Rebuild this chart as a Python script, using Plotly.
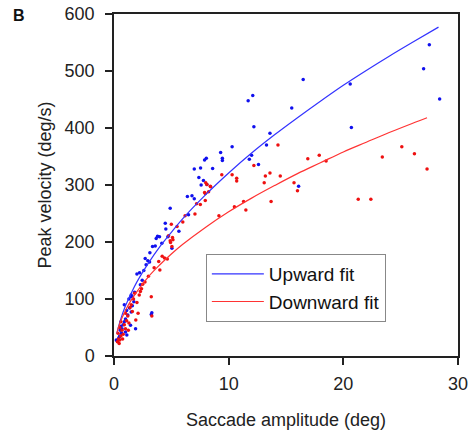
import plotly.graph_objects as go

# Scatter data
up_x = [27.5, 27.0, 28.4, 16.5, 20.6, 20.7, 12.1, 11.7, 15.5, 12.2, 13.6, 13.3, 10.3, 9.3, 12.0, 11.8,
        8.05, 7.9, 9.45, 9.45, 12.6, 7.0, 7.55, 8.6, 7.4, 7.8, 7.6, 8.1, 16.1, 6.4, 6.8, 7.0,
        4.9, 6.5, 5.66, 4.47, 4.52, 3.8, 4.17, 5.05, 3.36, 3.6, 3.13, 2.95, 2.72, 3.1, 2.23, 2.0,
        2.46, 1.5, 1.45, 1.6, 1.73, 1.35, 1.5, 1.2, 1.44, 1.88, 1.12, 0.66, 3.25, 3.3, 0.9, 0.8,
        0.55, 0.2, 3.97, 3.68, 4.7, 0.4, 0.5, 0.7, 0.6, 1.0, 1.1, 0.9, 1.3, 1.8, 2.3, 1.0, 0.3,
        0.45, 1.6, 2.6, 2.8]
up_y = [546, 504, 451, 485, 477, 401, 457, 448, 435, 402, 391, 370, 367, 357, 352, 345,
        347, 344, 347, 343, 336, 328, 330, 329, 313, 308, 300, 301, 298, 280, 281, 276,
        259, 248, 219, 233, 223, 210, 198, 189, 192, 193, 181, 167, 171, 165, 146, 144,
        133, 107, 104, 104, 95, 84, 77, 72, 54, 48, 37, 40, 73, 76, 60, 55,
        45, 28, 209, 206, 209, 30, 35, 48, 52, 65, 80, 90, 100, 112, 125, 42, 26,
        33, 88, 150, 160]

down_x = [14.3, 25.1, 26.2, 23.4, 17.9, 16.9, 18.5, 27.3, 12.2, 13.6, 13.2, 14.5, 13.1, 15.7, 16.0,
          9.4, 10.3, 10.7, 10.7, 8.0, 8.1, 8.4, 7.9, 8.25, 21.3, 22.4, 13.7, 10.5, 11.3, 11.5,
          9.15, 7.96, 7.96, 7.2, 7.06, 6.2, 5.5, 5.0, 5.1, 4.9, 4.93, 4.65, 3.9, 4.0, 3.25, 3.3,
          2.5, 2.3, 2.2, 2.0, 2.1, 1.9, 4.76, 5.14, 8.43, 7.53,
          0.3, 0.4, 0.5, 0.6, 0.35, 0.7, 0.8, 0.5, 0.9, 1.0, 1.1, 1.2, 1.3, 1.4, 1.5, 1.6, 1.7,
          1.8, 0.6, 0.45, 1.0, 0.75, 1.25, 2.4, 2.7, 3.0, 3.5, 4.2, 4.4, 6.0, 5.05]
down_y = [370, 367, 355, 349, 352, 346, 342, 328, 334, 321, 316, 316, 304, 304, 290,
          318, 318, 312, 307, 304, 301, 298, 287, 288, 275, 275, 271, 262, 271, 256,
          246, 285, 273, 267, 249, 246, 227, 231, 208, 202, 199, 170, 166, 151, 104, 70,
          126, 113, 107, 94, 75, 63, 211, 204, 297, 266,
          25, 30, 28, 35, 40, 45, 38, 50, 55, 48, 62, 70, 58, 85, 90, 78, 100,
          110, 60, 22, 75, 30, 45, 118, 130, 140, 155, 175, 172, 235, 192]

# Fit lines
fit_up_x = [0.25, 0.5, 1, 1.5, 2, 3, 4, 5, 6, 8, 10, 12, 14, 16, 18, 20, 22, 24, 26, 28.3]
fit_up_y = [40, 59, 88, 110, 130, 163, 192, 217, 241, 283, 321, 356, 388, 418, 447, 475, 501, 526, 550, 577]
fit_down_x = [0.25, 0.5, 1, 1.5, 2, 3, 4, 5, 6, 8, 10, 12, 14, 16, 18, 20, 22, 24, 26, 27.3]
fit_down_y = [40, 57, 80, 98, 113, 139, 160, 179, 196, 226, 253, 277, 299, 320, 339, 358, 375, 392, 408, 418]

x_ticks = [0, 10, 20, 30]
y_ticks = [0, 100, 200, 300, 400, 500, 600]

FONT = "Liberation Sans, Arial, sans-serif"
INK = "#222"

fig = go.Figure()
fig.add_trace(go.Scatter(x=up_x, y=up_y, mode="markers", showlegend=False,
                         marker=dict(color="#1010ee", size=3.5)))
fig.add_trace(go.Scatter(x=down_x, y=down_y, mode="markers", showlegend=False,
                         marker=dict(color="#ee1010", size=3.5)))
fig.add_trace(go.Scatter(x=fit_up_x, y=fit_up_y, mode="lines", name="Upward fit",
                         line=dict(color="#3333ff", width=1.2, shape="spline")))
fig.add_trace(go.Scatter(x=fit_down_x, y=fit_down_y, mode="lines", name="Downward fit",
                         line=dict(color="#ff3333", width=1.2, shape="spline")))

axis_common = dict(showline=True, linecolor=INK, linewidth=1.5, mirror=True,
                   ticks="outside", ticklen=7, tickwidth=1.5, tickcolor=INK,
                   showgrid=False, zeroline=False, automargin=False,
                   tickfont=dict(family=FONT, size=18, color=INK))

fig.update_xaxes(range=[0, 30], tickvals=x_ticks, ticklabelstandoff=4,
                 title=dict(text="Saccade amplitude (deg)", font=dict(family=FONT, size=18, color=INK),
                            standoff=20),
                 **axis_common)
fig.update_yaxes(range=[0, 600], tickvals=y_ticks, ticklabelstandoff=7,
                 title=dict(text="Peak velocity (deg/s)", font=dict(family=FONT, size=18, color=INK),
                            standoff=8),
                 **axis_common)

fig.add_annotation(text="<b>B</b>", xref="paper", yref="paper", x=-0.276, y=0.997,
                   xanchor="center", yanchor="middle", showarrow=False,
                   font=dict(family=FONT, size=16, color="#111"))

fig.update_layout(
    width=470, height=433,
    margin=dict(l=114, r=12, t=14, b=77),
    paper_bgcolor="white", plot_bgcolor="white",
    legend=dict(x=0.267, y=0.199, xanchor="left", yanchor="middle",
                bordercolor="#888", borderwidth=1, bgcolor="white",
                font=dict(family=FONT, size=19, color="#111"),
                tracegroupgap=0, itemwidth=52),
)

# remove the page's default body margin so the figure sits at the window's corner
fig.write_html("out.html", config={"displayModeBar": False},
               post_script="document.body.style.margin='0';")
